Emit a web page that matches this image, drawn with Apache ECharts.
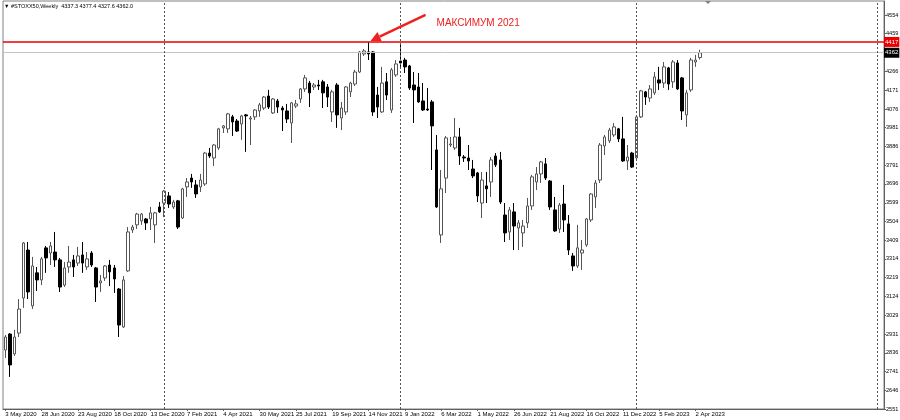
<!DOCTYPE html>
<html>
<head>
<meta charset="utf-8">
<script src="https://cdn.jsdelivr.net/npm/echarts@6/dist/echarts.min.js"></script>
<style>
	html, body { margin: 0; padding: 0; background: #fff; }
	#chart { width: 900px; height: 420px; }
</style>
</head>
<body>
<div id="chart"></div>
<script>
	// #STOXX50 weekly bars, first bar = week of 3 May 2020, last = 9 Apr 2023
	var open = [2851,2932,2831,2937,3115,3359,3075,3243,3207,3370, 3344,3349,3309,3181,3273,3309,3293,3334,3273,3344,
		3268,3192,3217,3283,3268,3161,2968,3253,3461,3487, 3507,3517,3517,3487,3578,3598,3634,3578,3609,3522,
		3680,3725,3690,3680,3695,3852,3827,3878,3980,3975, 4036,4015,4000,4046,4025,4036,4066,4081,4142,4056,
		4117,4081,4066,4005,4091,4127,4178,4208,4188,4198, 4214,4188,4061,4198,4030,4061,4163,4203,4264,4356,
		4366,4366,4147,4061,4214,4071,4249,4320,4325,4295, 4198,4188,4117,4076,4112,3868,3436,3725,3893,3878,
		3934,3832,3827,3771,3751,3598,3685,3705,3837,3817, 3537,3451,3553,3471,3446,3497,3583,3705,3746,3797,
		3710,3563,3466,3593,3492,3329,3278,3344,3385,3512, 3629,3715,3888,3914,3944,3975,3924,3812,3852,3827,
		4036,4163,4132,4158,4224,4208,4285,4214,4310,4234, 4046,4173,4315,4337.3];
	var high = [2927,2937,2953,3110,3400,3400,3324,3273,3324,3380, 3400,3451,3319,3298,3380,3334,3375,3400,3349,3354,
		3273,3232,3283,3309,3283,3166,3227,3476,3487,3548, 3548,3522,3578,3553,3603,3664,3654,3614,3614,3675,
		3725,3746,3715,3746,3858,3878,3898,3980,3995,4056, 4046,4025,4046,4051,4041,4076,4107,4142,4173,4132,
		4127,4091,4102,4112,4122,4183,4249,4219,4208,4224, 4224,4203,4173,4208,4112,4193,4214,4275,4371,4381,
		4417,4371,4188,4290,4259,4285,4325,4402,4336,4300, 4264,4259,4208,4183,4122,3944,3766,3939,3934,4030,
		3980,3842,3893,3817,3756,3756,3756,3832,3852,3858, 3598,3578,3598,3512,3512,3624,3741,3781,3812,3827,
		3715,3629,3598,3690,3537,3344,3487,3410,3522,3649, 3715,3903,3944,3980,4005,3980,4036,3893,3858,4041,
		4173,4168,4198,4264,4290,4315,4290,4325,4325,4239, 4173,4336,4351,4377.4];
	var low = [2810,2714,2821,2917,3065,3110,3059,3151,3181,3243, 3283,3273,3146,3171,3243,3222,3278,3243,3258,3273,
		3095,3146,3202,3176,3141,2917,2963,3248,3446,3466, 3487,3461,3461,3395,3548,3527,3573,3568,3466,3517,
		3629,3675,3624,3654,3685,3827,3786,3868,3954,3954, 3939,3959,3919,3858,3893,4020,4036,4071,4076,4051,
		4056,3964,4005,3903,4081,4107,4163,4086,4173,4173, 4081,4086,4010,3980,3969,4046,4137,4193,4259,4346,
		4325,4041,4030,4056,4122,4056,4239,4290,4259,4173, 4005,4107,4066,4066,3766,3573,3395,3649,3883,3868,
		3792,3807,3766,3725,3603,3522,3598,3629,3781,3593, 3400,3410,3359,3359,3375,3471,3563,3664,3700,3715,
		3563,3451,3446,3451,3334,3253,3268,3258,3375,3502, 3573,3700,3842,3903,3934,3908,3807,3766,3776,3817,
		4030,4097,4112,4147,4173,4183,4173,4183,4173,4020, 3985,4163,4290,4327.6];
	var close = [2917,2775,2917,3059,3395,3146,3278,3207,3314,3319, 3380,3309,3171,3268,3298,3273,3329,3293,3314,3283,
		3171,3202,3278,3248,3212,2978,3207,3451,3476,3542, 3542,3497,3548,3548,3553,3659,3593,3603,3476,3670,
		3705,3705,3644,3715,3852,3837,3893,3975,3990,4051, 4010,3964,4041,4041,4030,4071,4097,4137,4086,4127,
		4086,4071,4025,4107,4102,4178,4234,4158,4198,4193, 4158,4137,4163,4046,4081,4188,4208,4264,4366,4371,
		4356,4061,4086,4208,4147,4275,4305,4310,4290,4183, 4173,4112,4071,4071,3990,3578,3670,3929,3898,3934,
		3837,3827,3812,3736,3634,3715,3670,3817,3792,3603, 3446,3563,3481,3497,3481,3583,3731,3746,3807,3725,
		3578,3456,3588,3512,3359,3278,3370,3359,3517,3644, 3700,3893,3934,3969,3985,3924,3812,3832,3781,4036,
		4168,4137,4178,4239,4208,4290,4203,4315,4178,4066, 4158,4325,4325,4362.0];

	var xTickLabels = ['3 May 2020', '28 Jun 2020', '23 Aug 2020', '18 Oct 2020', '13 Dec 2020', '7 Feb 2021',
		'4 Apr 2021', '30 May 2021', '25 Jul 2021', '19 Sep 2021', '14 Nov 2021', '9 Jan 2022', '6 Mar 2022',
		'1 May 2022', '26 Jun 2022', '21 Aug 2022', '16 Oct 2022', '11 Dec 2022', '5 Feb 2023', '2 Apr 2023'];
	var yTickValues = [2551, 2646, 2741, 2836, 2931, 3029, 3124, 3219, 3314, 3409, 3504, 3599, 3696, 3791,
		3886, 3981, 4076, 4171, 4266, 4459, 4554];
	var yearStarts = ['2021.01.03', '2022.01.02', '2023.01.01', '2024.01.07'];
	var max2021 = 4417;
	var lastPrice = 4362.0;
	var titleText = '#STOXX50,Weekly  4337.3 4377.4 4327.6 4362.0';
	var noteText = 'МАКСИМУМ 2021';

	// weekly category slots (bars + empty space on the right like the terminal shift)
	var slots = 194;
	var categories = [];
	var t0 = Date.UTC(2020, 4, 3);
	for (var i = 0; i < slots; i++) {
		var d = new Date(t0 + i * 7 * 86400000);
		var mm = ('0' + (d.getUTCMonth() + 1)).slice(-2);
		var dd = ('0' + d.getUTCDate()).slice(-2);
		categories.push(d.getUTCFullYear() + '.' + mm + '.' + dd);
	}

	var candles = open.map(function(o, i) {
		return [o, close[i], low[i], high[i]];
	});

	var font = 'Liberation Sans, Arial, sans-serif';
	var chart = echarts.init(document.getElementById('chart'));

	var marks = [{
		yAxis: max2021,
		lineStyle: { color: '#e80000', width: 1.5, type: 'solid' },
		label: {
			show: true, position: 'end', distance: 0, formatter: String(max2021),
			backgroundColor: '#e80000', color: '#fff', fontSize: 6, fontFamily: font, padding: [2, 1]
		}
	}, {
		yAxis: lastPrice,
		lineStyle: { color: '#c4c4c4', width: 1, type: 'solid' },
		label: {
			show: true, position: 'end', distance: 0, formatter: String(Math.round(lastPrice)),
			backgroundColor: '#000', color: '#fff', fontSize: 6, fontFamily: font, padding: [2, 1]
		}
	}];
	yearStarts.map(function(d) {
		marks.push({
			xAxis: d,
			lineStyle: { color: '#555', width: 1, type: [2, 2] },
			label: { show: false }
		});
	});

	var option = {
		animation: false,
		backgroundColor: '#fff',
		grid: {
			left: 3, right: 16, top: 1, bottom: 11,
			containLabel: false,
			outerBoundsMode: 'none',
			show: true, borderColor: '#808080', borderWidth: 1
		},
		xAxis: {
			type: 'category',
			data: categories,
			boundaryGap: true,
			axisLine: { show: true, lineStyle: { color: '#606060' } },
			axisTick: {
				show: true, alignWithLabel: true, length: 2, lineStyle: { color: '#606060' },
				interval: function(index) { return index % 8 === 0 && index < open.length; }
			},
			axisLabel: {
				interval: function(index) { return index % 8 === 0 && index < open.length; },
				formatter: function(value, index) { return xTickLabels[index / 8] || ''; },
				align: 'left',
				margin: 2,
				fontSize: 6,
				fontFamily: font,
				color: '#000'
			},
			splitLine: { show: false }
		},
		yAxis: {
			type: 'value',
			position: 'right',
			min: 2551,
			max: 4625,
			scale: true,
			axisLine: { show: true, lineStyle: { color: '#606060' } },
			axisTick: { show: true, length: 2, customValues: yTickValues, lineStyle: { color: '#606060' } },
			axisLabel: {
				customValues: yTickValues,
				formatter: function(v) { return String(v); },
				margin: 2,
				fontSize: 5.6,
				fontFamily: font,
				color: '#000'
			},
			splitLine: { show: false }
		},
		series: [{
			type: 'candlestick',
			data: candles,
			barWidth: 3,
			itemStyle: {
				color: '#fff',
				color0: '#000',
				borderColor: '#555',
				borderColor0: '#000',
				borderWidth: 1
			},
			markLine: {
				silent: true,
				symbol: ['none', 'none'],
				animation: false,
				data: marks
			}
		}]
	};
	chart.setOption(option);

	// annotation arrow pointing at the 2021 high
	var tip = chart.convertToPixel({ seriesIndex: 0 }, [80, max2021]);
	var start = [tip[0] + 57, tip[1] - 27];
	var end = [tip[0] + 2, tip[1] - 1];
	var dx = end[0] - start[0], dy = end[1] - start[1];
	var len = Math.sqrt(dx * dx + dy * dy);
	var ux = dx / len, uy = dy / len;
	var base = [end[0] - ux * 10, end[1] - uy * 10];
	var red = '#ee2020';

	chart.setOption({
		graphic: [{
			type: 'line',
			shape: { x1: start[0], y1: start[1], x2: base[0], y2: base[1] },
			style: { stroke: red, lineWidth: 2.5 },
			z: 100
		}, {
			type: 'polygon',
			shape: {
				points: [end, [base[0] - uy * 5, base[1] + ux * 5], [base[0] + uy * 5, base[1] - ux * 5]]
			},
			style: { fill: red },
			z: 100
		}, {
			type: 'text',
			left: tip[0] + 68,
			top: tip[1] - 24,
			style: { text: noteText, fill: red, fontSize: 10, fontFamily: font },
			z: 100
		}, {
			type: 'text',
			left: 4,
			top: 3,
			style: { text: '\u25BC ' + titleText, fill: '#000', fontSize: 5.5, fontFamily: font + ', DejaVu Sans' },
			z: 100
		}, {
			type: 'polygon',
			shape: { points: [[705, 1], [711, 1], [708, 4]] },
			style: { fill: '#808080' },
			z: 100
		}]
	});

	window.addEventListener('resize', function() {
		chart.resize();
	});
</script>
</body>
</html>
